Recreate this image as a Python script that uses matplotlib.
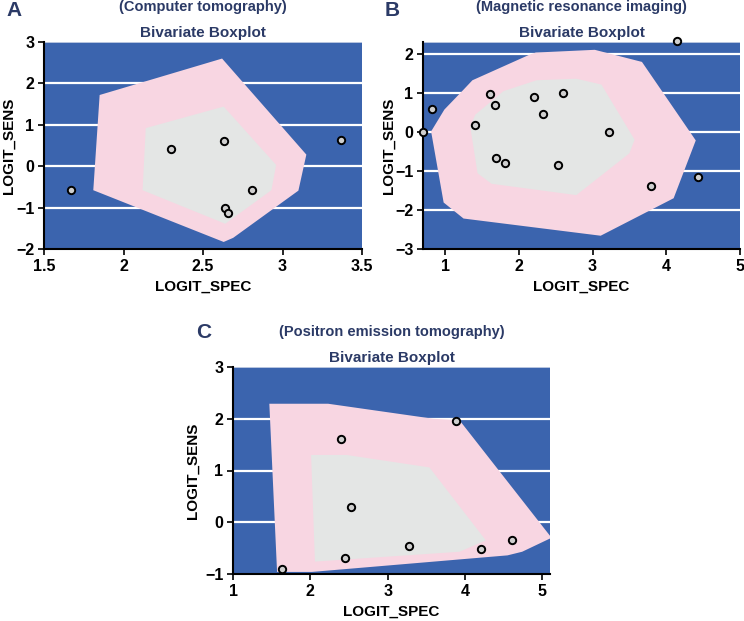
import matplotlib
matplotlib.use("Agg")
import matplotlib.pyplot as plt
from matplotlib.patches import Polygon

plt.rcParams['font.family'] = ['Liberation Sans', 'DejaVu Sans']
plt.rcParams['font.weight'] = 'bold'

# ---------------- data ----------------
# Panel A: Computer tomography
a_spec = [1.67, 2.30, 2.63, 3.37, 2.81, 2.64, 2.66]
a_sens = [-0.57, 0.41, 0.60, 0.63, -0.57, -1.01, -1.14]
a_outer_x = [1.85, 2.62, 3.15, 3.10, 2.69, 2.63, 1.81]
a_outer_y = [1.72, 2.60, 0.28, -0.59, -1.73, -1.83, -0.58]
a_inner_x = [2.14, 2.63, 2.96, 2.93, 2.64, 2.12]
a_inner_y = [0.92, 1.44, 0.03, -0.58, -1.39, -0.58]

# Panel B: Magnetic resonance imaging
b_spec = [0.70, 0.82, 1.40, 1.61, 1.67, 1.69, 1.81, 2.20, 2.33, 2.60, 2.53, 3.22, 3.79, 4.15, 4.43]
b_sens = [0.00, 0.58, 0.18, 0.98, 0.69, -0.68, -0.80, 0.89, 0.46, 0.99, -0.84, -0.01, -1.39, 2.33, -1.15]
b_outer_x = [0.81, 0.99, 1.25, 1.37, 2.15, 2.23, 3.03, 3.67, 4.40, 4.10, 3.11, 1.25, 0.98]
b_outer_y = [0.01, 0.57, 1.08, 1.32, 1.98, 2.03, 2.10, 1.79, -0.22, -1.70, -2.66, -2.22, -1.81]
b_inner_x = [1.34, 1.41, 1.79, 2.24, 2.78, 3.12, 3.57, 3.50, 2.78, 1.63, 1.44]
b_inner_y = [0.14, 0.44, 1.04, 1.32, 1.36, 1.21, -0.20, -0.55, -1.62, -1.33, -1.06]

# Panel C: Positron emission tomography
c_spec = [1.64, 2.40, 2.52, 2.45, 3.27, 3.89, 4.21, 4.61]
c_sens = [-0.91, 1.61, 0.30, -0.69, -0.45, 1.95, -0.52, -0.35]
c_outer_x = [1.47, 2.23, 3.59, 3.93, 5.12, 4.74, 4.55, 2.02, 1.57]
c_outer_y = [2.29, 2.29, 2.00, 1.97, -0.30, -0.57, -0.64, -0.96, -0.96]
c_inner_x = [2.01, 2.47, 3.54, 4.27, 3.93, 2.06]
c_inner_y = [1.30, 1.30, 1.06, -0.35, -0.57, -0.76]

panels = [
    dict(letter="A", title="(Computer tomography)", spec=a_spec, sens=a_sens,
         ox=a_outer_x, oy=a_outer_y, ix=a_inner_x, iy=a_inner_y,
         xlim=(1.5, 3.5), ylim=(-2, 3),
         xticks=[1.5, 2, 2.5, 3, 3.5], xtl=["1.5", "2", "2.5", "3", "3.5"],
         yticks=[-2, -1, 0, 1, 2, 3],
         pos=[44, 42, 362, 249], letter_xy=(14, 10), ylab_x=9),
    dict(letter="B", title="(Magnetic resonance imaging)", spec=b_spec, sens=b_sens,
         ox=b_outer_x, oy=b_outer_y, ix=b_inner_x, iy=b_inner_y,
         xlim=(0.7, 5), ylim=(-3, 2.3),
         xticks=[1, 2, 3, 4, 5], xtl=["1", "2", "3", "4", "5"],
         yticks=[-3, -2, -1, 0, 1, 2],
         pos=[423, 42, 740, 249], letter_xy=(392, 10), ylab_x=389),
    dict(letter="C", title="(Positron emission tomography)", spec=c_spec, sens=c_sens,
         ox=c_outer_x, oy=c_outer_y, ix=c_inner_x, iy=c_inner_y,
         xlim=(1, 5.1), ylim=(-1, 3),
         xticks=[1, 2, 3, 4, 5], xtl=["1", "2", "3", "4", "5"],
         yticks=[-1, 0, 1, 2, 3],
         pos=[233, 367, 550, 574], letter_xy=(204, 332), ylab_x=193),
]

W, H = 744, 621
fig = plt.figure(figsize=(W / 100, H / 100), dpi=100)

BLUE = "#3b64ae"
PINK = "#f8d6e2"
GRAY = "#e4e6e5"
NAVY = "#2b3a66"

for p in panels:
    l, t, r, b = p["pos"]
    ax = fig.add_axes([l / W, 1 - b / H, (r - l) / W, (b - t) / H])
    ax.set_facecolor(BLUE)
    ax.set_xlim(*p["xlim"])
    ax.set_ylim(*p["ylim"])
    for yv in p["yticks"]:
        if p["ylim"][0] < yv < p["ylim"][1]:
            ax.axhline(yv, color="white", lw=1.6, zorder=1)
    ax.axhline(p["ylim"][1], color="#cfd8ea", lw=1.2, zorder=1)
    ax.add_patch(Polygon(list(zip(p["ox"], p["oy"])), closed=True,
                         facecolor=PINK, edgecolor="none", zorder=2))
    ax.add_patch(Polygon(list(zip(p["ix"], p["iy"])), closed=True,
                         facecolor=GRAY, edgecolor="none", zorder=3))
    ax.scatter(p["spec"], p["sens"], s=28, facecolor="#cfcfcf",
               edgecolor="black", linewidth=1.4, zorder=5, clip_on=False)
    ax.set_xticks(p["xticks"])
    ax.set_xticklabels(p["xtl"])
    ax.set_yticks(p["yticks"])
    for s in ["top", "right"]:
        ax.spines[s].set_visible(False)
    for s in ["left", "bottom"]:
        ax.spines[s].set_linewidth(1.5)
        ax.spines[s].set_color("black")
    ax.tick_params(axis="both", direction="out", length=4, width=1.2,
                   labelsize=11.5, pad=3)
    for lab in ax.get_xticklabels() + ax.get_yticklabels():
        lab.set_fontweight("bold")
    ax.grid(False)

    cx = (l + r) / 2
    fig.text(p["letter_xy"][0] / W, 1 - p["letter_xy"][1] / H,
             p["letter"], ha="center", va="center", fontsize=15,
             fontweight="bold", color=NAVY)
    fig.text(cx / W, 1 - (t - 35) / H, p["title"], ha="center", va="center",
             fontsize=10.5, fontweight="bold", color=NAVY)
    fig.text(cx / W, 1 - (t - 9) / H, "Bivariate Boxplot", ha="center",
             va="center", fontsize=11, fontweight="bold", color=NAVY)
    fig.text(cx / W, 1 - (b + 38) / H, "LOGIT_SPEC", ha="center", va="center",
             fontsize=11, fontweight="bold", color="black")
    fig.text(p["ylab_x"] / W, 1 - ((t + b) / 2) / H, "LOGIT_SENS", ha="center",
             va="center", rotation=90, fontsize=11, fontweight="bold",
             color="black")

fig.savefig("out.png", dpi=100)
